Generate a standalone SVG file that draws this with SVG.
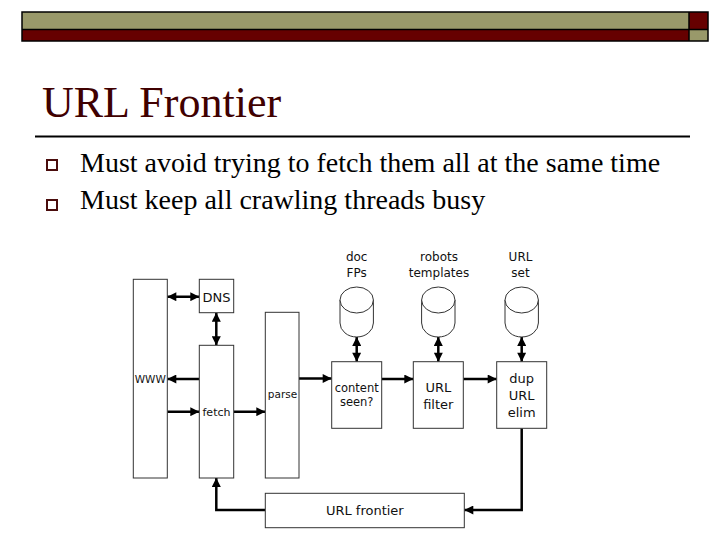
<svg xmlns="http://www.w3.org/2000/svg" width="720" height="540" viewBox="0 0 720 540">
<style>
.box{fill:#fff;stroke:#333;stroke-width:1}
.cyl{fill:#fff;stroke:#333;stroke-width:1}
.lbl{font-family:"DejaVu Sans",sans-serif;fill:#111;text-anchor:middle}
.conn{fill:none;stroke:#000;stroke-width:2.5}
.body{font-family:"Liberation Serif","Times New Roman",serif;font-size:28px;fill:#000}
.bul{fill:none;stroke:#4a0d0d;stroke-width:2}
</style>
<defs>
<marker id="ah" viewBox="0 0 10 10" refX="10" refY="5" markerWidth="4" markerHeight="3.6" orient="auto-start-reverse" markerUnits="strokeWidth">
<path d="M0,0 L10,5 L0,10 z" fill="#000"/>
</marker>
</defs>
<g id="topbar">
<rect x="22" y="12" width="667" height="17.5" fill="#99996a"/>
<rect x="22" y="29.5" width="667" height="11.5" fill="#660000"/>
<rect x="689" y="12" width="19" height="17.5" fill="#660000"/>
<rect x="689" y="29.5" width="19" height="11.5" fill="#99996a"/>
<rect x="22" y="12" width="686" height="29" fill="none" stroke="#000" stroke-width="1.5"/>
<line x1="22" y1="29.5" x2="708" y2="29.5" stroke="#000" stroke-width="1.5"/>
<line x1="689" y1="12" x2="689" y2="41" stroke="#000" stroke-width="1.5"/>
</g>
<g id="title">
<text x="42" y="117" font-family="Liberation Serif, 'Times New Roman', serif" font-size="44" fill="#400000">URL Frontier</text>
<line x1="35" y1="136.5" x2="690" y2="136.5" stroke="#000" stroke-width="2"/>
</g>
<g id="bullets">
<rect class="bul" x="47" y="160" width="10" height="10"/>
<text class="body" x="80" y="171.5">Must avoid trying to fetch them all at the same time</text>
<rect class="bul" x="47" y="200" width="10" height="10"/>
<text class="body" x="80" y="209">Must keep all crawling threads busy</text>
</g>
<g id="connectors">
<line class="conn" x1="167.3" y1="296.7" x2="199.3" y2="296.7" marker-start="url(#ah)" marker-end="url(#ah)"/>
<line class="conn" x1="216.3" y1="312.7" x2="216.3" y2="345.3" marker-start="url(#ah)" marker-end="url(#ah)"/>
<line class="conn" x1="199.3" y1="379" x2="167.3" y2="379" marker-end="url(#ah)"/>
<line class="conn" x1="167.3" y1="411.7" x2="199.3" y2="411.7" marker-end="url(#ah)"/>
<line class="conn" x1="233.7" y1="411.7" x2="265.3" y2="411.7" marker-end="url(#ah)"/>
<line class="conn" x1="299" y1="378.5" x2="331.7" y2="378.5" marker-end="url(#ah)"/>
<line class="conn" x1="381.7" y1="379" x2="413.3" y2="379" marker-end="url(#ah)"/>
<line class="conn" x1="463.3" y1="379" x2="496.7" y2="379" marker-end="url(#ah)"/>
<line class="conn" x1="356.7" y1="337" x2="356.7" y2="361.7" marker-start="url(#ah)" marker-end="url(#ah)"/>
<line class="conn" x1="438.3" y1="337" x2="438.3" y2="361.7" marker-start="url(#ah)" marker-end="url(#ah)"/>
<line class="conn" x1="521.7" y1="337" x2="521.7" y2="361.7" marker-start="url(#ah)" marker-end="url(#ah)"/>
<path class="conn" d="M521.7,428.3 V510 H464.3" stroke-width="3" marker-end="url(#ah)"/>
<path class="conn" d="M265.3,510 H216.3 V478" stroke-width="3" marker-end="url(#ah)"/>
</g>
<g id="www">
<rect class="box" x="133.3" y="279.3" width="34" height="198.7"/>
<text class="lbl" x="150.3" y="382.5" font-size="10.5">WWW</text>
</g>
<g id="dns">
<rect class="box" x="199.3" y="279.3" width="34.4" height="33.4"/>
<text class="lbl" x="216.5" y="301.5" font-size="13">DNS</text>
</g>
<g id="fetch">
<rect class="box" x="199.3" y="345.3" width="34.4" height="132.7"/>
<text class="lbl" x="216.5" y="416" font-size="11">fetch</text>
</g>
<g id="parse">
<rect class="box" x="265.3" y="312.3" width="33.7" height="165.7"/>
<text class="lbl" x="282.5" y="398" font-size="10.5">parse</text>
</g>
<g id="content-seen">
<rect class="box" x="331.7" y="361.7" width="50" height="66.6"/>
<text class="lbl" x="356.7" y="392" font-size="11.5">content</text>
<text class="lbl" x="356.7" y="406" font-size="11.5">seen?</text>
</g>
<g id="url-filter">
<rect class="box" x="413.3" y="361.7" width="50" height="66.6"/>
<text class="lbl" x="438.3" y="391.5" font-size="13">URL</text>
<text class="lbl" x="438.3" y="408.5" font-size="13">filter</text>
</g>
<g id="dup-url-elim">
<rect class="box" x="496.7" y="361.7" width="50" height="66.6"/>
<text class="lbl" x="521.7" y="383" font-size="13">dup</text>
<text class="lbl" x="521.7" y="400" font-size="13">URL</text>
<text class="lbl" x="521.7" y="417" font-size="13">elim</text>
</g>
<g id="url-frontier">
<rect class="box" x="265.3" y="493.3" width="199" height="34.4"/>
<text class="lbl" x="364.8" y="515" font-size="13">URL frontier</text>
</g>
<g id="doc-fps">
<text class="lbl" x="356.7" y="261" font-size="12">doc</text>
<text class="lbl" x="356.7" y="277" font-size="12">FPs</text>
<path class="cyl" d="M340,300 V323 A16.7,14 0 0 0 373.4,323 V300"/>
<ellipse class="cyl" cx="356.7" cy="300" rx="16.7" ry="13"/>
</g>
<g id="robots-templates">
<text class="lbl" x="439" y="261" font-size="12">robots</text>
<text class="lbl" x="439" y="277" font-size="12">templates</text>
<path class="cyl" d="M421.6,300 V323 A16.7,14 0 0 0 455,323 V300"/>
<ellipse class="cyl" cx="438.3" cy="300" rx="16.7" ry="13"/>
</g>
<g id="url-set">
<text class="lbl" x="520.5" y="261" font-size="12">URL</text>
<text class="lbl" x="520.5" y="277" font-size="12">set</text>
<path class="cyl" d="M505,300 V323 A16.7,14 0 0 0 538.4,323 V300"/>
<ellipse class="cyl" cx="521.7" cy="300" rx="16.7" ry="13"/>
</g>
</svg>
